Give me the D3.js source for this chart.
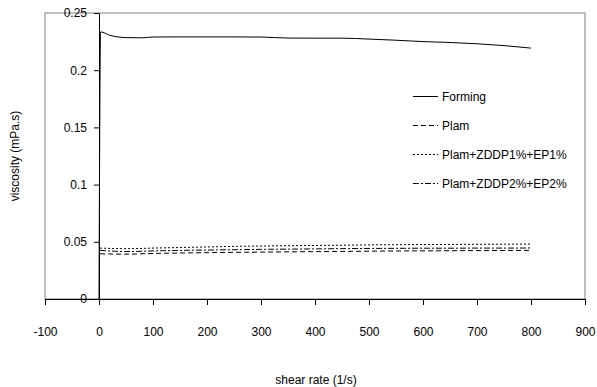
<!DOCTYPE html>
<html lang="en">
<head>
<meta charset="UTF-8">
<title>viscosity</title>
<script src="https://d3js.org/d3.v7.min.js"></script>
<style>
  body { margin: 0; background: #fff; }
  text { font-family: "Liberation Sans", Arial, sans-serif; font-size: 12px; fill: #000; }
</style>
</head>
<body>
<script>
// shear rate (1/s)
var formingX = [0, 3, 20, 50, 80, 100, 150, 200, 250, 300, 350, 400, 450, 500, 550, 600, 650, 700, 750, 800];
var formingY = [0, 0.2335, 0.2305, 0.2285, 0.2283, 0.2290, 0.2291, 0.2291, 0.2291, 0.2290, 0.2281, 0.2280, 0.2280, 0.2272, 0.2262, 0.2250, 0.2242, 0.2231, 0.2215, 0.2193];

var lowX = [2, 50, 100, 150, 200, 250, 300, 350, 400, 450, 500, 550, 600, 650, 700, 750, 800];
var plamY = [0.0395, 0.0392, 0.0398, 0.0402, 0.0405, 0.0408, 0.0410, 0.0412, 0.0414, 0.0416, 0.0418, 0.0420, 0.0421, 0.0422, 0.0423, 0.0424, 0.0425];
var zddp1Y = [0.0445, 0.0440, 0.0445, 0.0450, 0.0455, 0.0460, 0.0463, 0.0466, 0.0468, 0.0470, 0.0473, 0.0475, 0.0476, 0.0477, 0.0478, 0.0479, 0.0480];
var zddp2Y = [0.0425, 0.0415, 0.0420, 0.0425, 0.0428, 0.0431, 0.0434, 0.0436, 0.0438, 0.0440, 0.0442, 0.0443, 0.0444, 0.0444, 0.0445, 0.0445, 0.0446];

var seriesNames = ["Forming", "Plam", "Plam+ZDDP1%+EP1%", "Plam+ZDDP2%+EP2%"];
var xTicks = [-100, 0, 100, 200, 300, 400, 500, 600, 700, 800, 900];
var yTicks = [0, 0.05, 0.1, 0.15, 0.2, 0.25];

var width = 597, height = 387;
var svg = d3.select("body").append("svg")
    .attr("width", width)
    .attr("height", height);

var x = d3.scaleLinear().domain([-100, 900]).range([45, 585]);
var y = d3.scaleLinear().domain([0, 0.25]).range([299, 13]);

// plot area border
svg.append("rect")
    .attr("x", x(-100)).attr("y", y(0.25))
    .attr("width", x(900) - x(-100)).attr("height", y(0) - y(0.25))
    .attr("fill", "none").attr("stroke", "#808080").attr("stroke-width", 1);

var xAxis = svg.append("g")
    .attr("transform", "translate(0," + y(0) + ")")
    .call(d3.axisBottom(x).tickValues(xTicks).tickFormat(function (d) { return String(d); }).tickSize(6).tickSizeOuter(0).tickPadding(22));
xAxis.select(".domain").attr("stroke", "#000");

var yAxis = svg.append("g")
    .attr("transform", "translate(" + x(0) + ",0)")
    .call(d3.axisLeft(y).tickValues(yTicks).tickFormat(function (d) { return String(+d.toFixed(2)); }).tickSize(5).tickSizeOuter(0).tickPadding(7));
yAxis.select(".domain").attr("stroke", "#000");

svg.selectAll(".tick text").style("font-size", "12px").style("font-family", "Liberation Sans, Arial, sans-serif");

var line = d3.line()
    .x(function (d) { return x(d[0]); })
    .y(function (d) { return y(d[1]); })
    .curve(d3.curveMonotoneX);

var series = [
    { name: seriesNames[0], pts: d3.zip(formingX, formingY), dash: null },
    { name: seriesNames[1], pts: d3.zip(lowX, plamY), dash: "5,3" },
    { name: seriesNames[2], pts: d3.zip(lowX, zddp1Y), dash: "2,2" },
    { name: seriesNames[3], pts: d3.zip(lowX, zddp2Y), dash: "6,2,2,2" }
];

svg.selectAll("path.series")
    .data(series)
    .enter()
    .append("path")
    .attr("class", "series")
    .attr("d", function (d) { return line(d.pts); })
    .attr("fill", "none")
    .attr("stroke", "#000")
    .attr("stroke-width", 1)
    .attr("stroke-dasharray", function (d) { return d.dash; });

// legend
var legend = svg.selectAll("g.legend")
    .data(series)
    .enter()
    .append("g")
    .attr("class", "legend")
    .attr("transform", function (d, i) { return "translate(413," + (96.5 + i * 29) + ")"; });

legend.append("line")
    .attr("x1", 0).attr("x2", 25).attr("y1", 0).attr("y2", 0)
    .attr("stroke", "#000").attr("stroke-width", 1)
    .attr("stroke-dasharray", function (d) { return d.dash; });

legend.append("text")
    .attr("x", 29).attr("y", 0).attr("dy", "0.35em")
    .text(function (d) { return d.name; });

// axis titles
svg.append("text")
    .attr("x", 316).attr("y", 384)
    .attr("text-anchor", "middle")
    .text("shear rate (1/s)");

svg.append("text")
    .attr("transform", "translate(19,156) rotate(-90)")
    .attr("text-anchor", "middle")
    .text("viscosity (mPa.s)");
</script>
</body>
</html>
